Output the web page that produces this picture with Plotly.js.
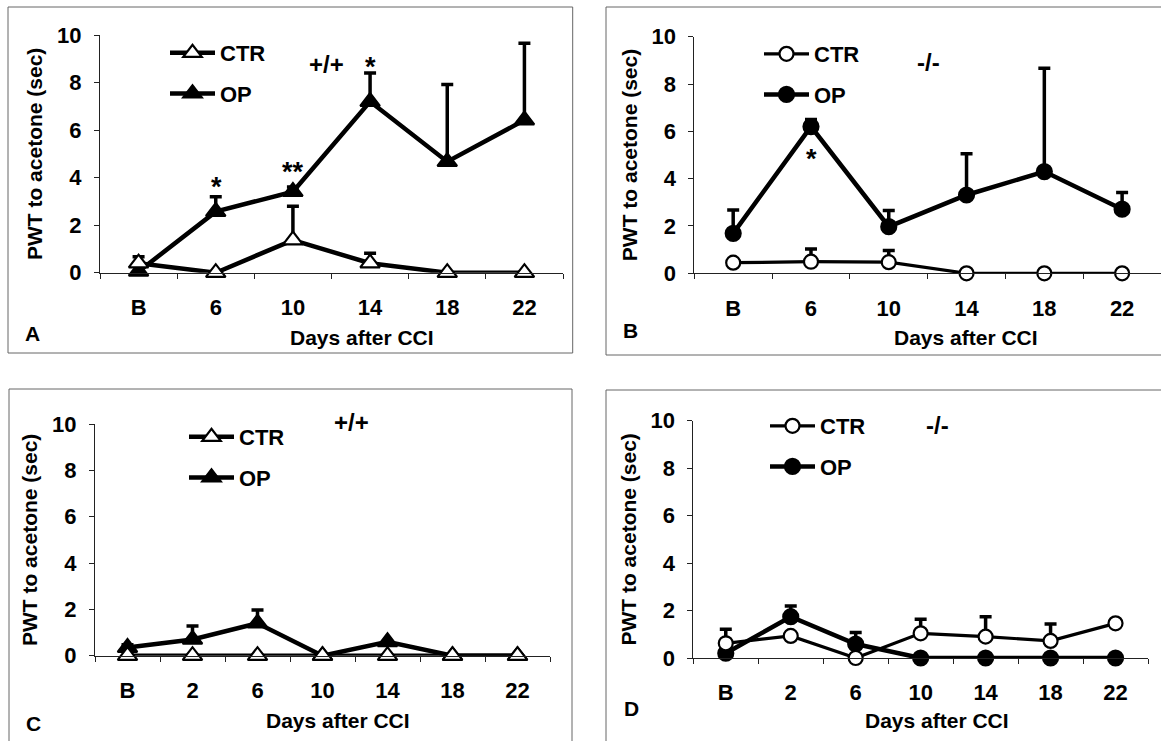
<!DOCTYPE html>
<html><head><meta charset="utf-8">
<script src="https://cdn.plot.ly/plotly-3.0.1.min.js"></script>
<style>html,body{margin:0;padding:0;background:#fff}#chart{width:1161px;height:741px}</style>
</head><body><div id="chart"></div>
<script>
// ---- data ----
const catsAB = ['B','6','10','14','18','22'];
const catsCD = ['B','2','6','10','14','18','22'];

const aCtr    = [0.4, 0, 1.37, 0.4, 0, 0];
const aCtrErr = [0.27, 0, 1.43, 0.42, 0, 0];
const aOp     = [0.05, 2.57, 3.41, 7.2, 4.67, 6.42];
const aOpErr  = [0, 0.63, 0.2, 1.2, 3.25, 3.23];

const bCtr    = [0.45, 0.49, 0.47, 0, 0, 0];
const bCtrErr = [0, 0.54, 0.49, 0, 0, 0];
const bOp     = [1.69, 6.2, 1.97, 3.31, 4.3, 2.71];
const bOpErr  = [0.99, 0.3, 0.68, 1.74, 4.37, 0.7];

const cCtr    = [0, 0, 0, 0, 0, 0, 0];
const cCtrErr = [0, 0, 0, 0, 0, 0, 0];
const cOp     = [0.35, 0.7, 1.4, 0, 0.6, 0, 0];
const cOpErr  = [0.12, 0.58, 0.57, 0, 0, 0, 0];

const dCtr    = [0.62, 0.93, 0, 1.04, 0.9, 0.72, 1.46];
const dCtrErr = [0.59, 0, 0, 0.59, 0.84, 0.71, 0];
const dOp     = [0.2, 1.74, 0.59, 0, 0, 0, 0];
const dOpErr  = [0, 0.45, 0.48, 0, 0, 0, 0];

const seriesNames = ['CTR', 'OP'];
const yTitle = 'PWT to acetone (sec)';
const xTitle = 'Days after CCI';

// ---- layout helpers ----
const W = 1161, H = 741;
const F = 'Liberation Sans, Arial, sans-serif';
const px = v => v / W;
const py = v => 1 - v / H;

function err(arr){ return {type:'data', symmetric:false, array:arr, arrayminus:arr.map(()=>0), color:'#000', thickness:3.5, width:6}; }

function mk(x, y, e, name, sym, filled, xa, ya, lg, lw, size, rank){
  return {
    type:'scatter', mode:'lines+markers', x:x, y:y, name:name,
    xaxis:xa, yaxis:ya, legend:lg, legendgroup:name, legendrank:rank,
    line:{color:'#000', width:lw},
    marker:{symbol:sym, size:size, color: filled ? '#000' : '#fff', line:{color:'#000', width:2.2}},
    error_y: err(e), cliponaxis:false, hoverinfo:'skip'
  };
}

const traces = [
  mk(catsAB, aOp,  aOpErr,  seriesNames[1], 'triangle-up', true,  'x',  'y',  'legend',  4.5, 17, 2),
  mk(catsAB, aCtr, aCtrErr, seriesNames[0], 'triangle-up', false, 'x',  'y',  'legend',  4.5, 17, 1),
  mk(catsAB, bOp,  bOpErr,  seriesNames[1], 'circle', true,  'x2', 'y2', 'legend2', 4.5, 15, 2),
  mk(catsAB, bCtr, bCtrErr, seriesNames[0], 'circle', false, 'x2', 'y2', 'legend2', 3.2, 14, 1),
  mk(catsCD, cOp,  cOpErr,  seriesNames[1], 'triangle-up', true,  'x3', 'y3', 'legend3', 4.5, 17, 2),
  mk(catsCD, cCtr, cCtrErr, seriesNames[0], 'triangle-up', false, 'x3', 'y3', 'legend3', 4.5, 17, 1),
  mk(catsCD, dOp,  dOpErr,  seriesNames[1], 'circle', true,  'x4', 'y4', 'legend4', 4.5, 15, 2),
  mk(catsCD, dCtr, dCtrErr, seriesNames[0], 'circle', false, 'x4', 'y4', 'legend4', 3.2, 14, 1)
];

function xax(x0, x1, cats, anchor){
  return {domain:[px(x0), px(x1)], anchor:anchor, type:'category', categoryorder:'array', categoryarray:cats,
    range:[-0.5, cats.length-0.5], tickson:'boundaries', ticks:'outside', ticklen:5, tickwidth:1, tickcolor:'#222',
    showline:true, linecolor:'#222', linewidth:1, showgrid:false, zeroline:false, fixedrange:true,
    tickfont:{family:F, size:22, weight:'bold', color:'#000'}, ticklabelstandoff:15};
}
function yax(y0, y1, anchor){
  return {domain:[py(y0), py(y1)], anchor:anchor, range:[0,10], tick0:0, dtick:2, ticks:'outside', ticklen:5, tickwidth:1,
    tickcolor:'#222', showline:true, linecolor:'#222', linewidth:1, showgrid:false, zeroline:false, fixedrange:true,
    tickfont:{family:F, size:22, weight:'bold', color:'#000'}, ticklabelstandoff:8,
    title:{text:yTitle, font:{family:F, size:21, weight:'bold', color:'#000'}, standoff:8}};
}
function leg(x, y){
  return {x:px(x), y:py(y), xanchor:'left', yanchor:'top', bgcolor:'rgba(0,0,0,0)', borderwidth:0,
    font:{family:F, size:22, weight:'bold', color:'#000'}, traceorder:'grouped', tracegroupgap:9, itemwidth:45};
}
function txt(x, y, t, size){
  return {xref:'paper', yref:'paper', x:px(x), y:py(y), xanchor:'center', yanchor:'middle', text:t, showarrow:false,
    font:{family:F, size:size, weight:'bold', color:'#000'}};
}
function frame(x0, y0, x1, y1){
  return {type:'rect', xref:'paper', yref:'paper', x0:px(x0), x1:px(x1), y0:py(y1), y1:py(y0),
    line:{color:'#666', width:1}, fillcolor:'rgba(0,0,0,0)', layer:'below'};
}

const layout = {
  width:W, height:H, margin:{l:0, r:0, t:0, b:0}, paper_bgcolor:'#fff', plot_bgcolor:'rgba(0,0,0,0)',
  showlegend:true,
  xaxis: xax(100, 563, catsAB, 'y'),
  yaxis: yax(272.7, 35, 'x'),
  xaxis2: xax(694.3, 1161, catsAB, 'y2'),
  yaxis2: yax(273.3, 36.7, 'x2'),
  xaxis3: xax(95, 550, catsCD, 'y3'),
  yaxis3: yax(655.7, 424, 'x3'),
  xaxis4: xax(693.3, 1148, catsCD, 'y4'),
  yaxis4: yax(658, 420.7, 'x4'),
  legend: leg(165, 32),
  legend2: leg(759, 33),
  legend3: leg(184, 416),
  legend4: leg(765, 405),
  shapes: [
    frame(8, 7, 572.7, 353),
    frame(606, 7, 1163, 355),
    frame(9, 389, 572, 745),
    frame(606, 390, 1163, 745)
  ],
  annotations: [
    txt(32, 333, 'A', 21), txt(362, 337, xTitle, 21), txt(326, 64, '+/+', 24),
    txt(216.7, 187, '*', 27), txt(293, 172, '**', 27), txt(370.7, 67, '*', 27),
    txt(630, 330, 'B', 21), txt(966, 337, xTitle, 21), txt(928.7, 62, '-/-', 24),
    txt(811.7, 159, '*', 27),
    txt(33, 723, 'C', 21), txt(338.3, 720, xTitle, 21), txt(351.7, 422, '+/+', 24),
    txt(631.7, 708, 'D', 21), txt(936.8, 720, xTitle, 21), txt(937.7, 425, '-/-', 24)
  ]
};

Plotly.newPlot('chart', traces, layout, {staticPlot:true, displayModeBar:false});
</script>
</body></html>
